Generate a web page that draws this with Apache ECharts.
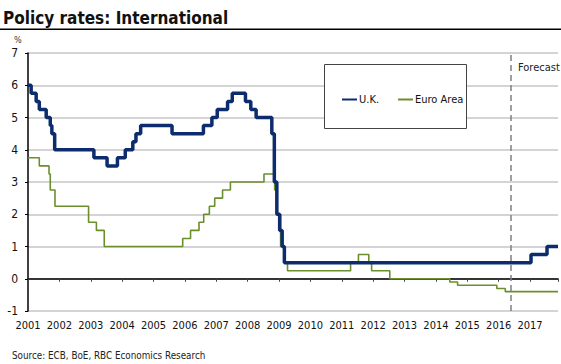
<!DOCTYPE html>
<html>
<head>
<meta charset="utf-8">
<script src="https://cdn.jsdelivr.net/npm/echarts@6/dist/echarts.min.js"></script>
<style>
html,body{margin:0;padding:0;background:#fff;}
#chart{width:561px;height:364px;}
</style>
</head>
<body>
<div id="chart"></div>
<script>
// ---- Data (decimal years where each rate takes effect) ----
const yearLabels = [2001,2002,2003,2004,2005,2006,2007,2008,2009,2010,2011,2012,2013,2014,2015,2016,2017];
const yTicks = [-1,0,1,2,3,4,5,6,7];

const ukDates = [2001.00,2001.10,2001.26,2001.36,2001.58,2001.71,2001.76,2001.85,2003.10,2003.52,2003.85,2004.10,2004.34,2004.44,2004.59,2005.59,2006.59,2006.86,2007.03,2007.36,2007.51,2007.93,2008.10,2008.27,2008.77,2008.85,2008.93,2009.02,2009.10,2009.17,2017.03,2017.54,2017.89];
const ukRates = [6.00,5.75,5.50,5.25,5.00,4.75,4.50,4.00,3.75,3.50,3.75,4.00,4.25,4.50,4.75,4.50,4.75,5.00,5.25,5.50,5.75,5.50,5.25,5.00,4.50,3.00,2.00,1.50,1.00,0.50,0.75,1.00,1.00];

const euroDates = [2001.00,2001.36,2001.67,2001.71,2001.86,2002.93,2003.18,2003.43,2005.93,2006.18,2006.45,2006.60,2006.78,2006.95,2007.20,2007.45,2008.52,2008.86,2008.94,2009.05,2009.19,2009.27,2011.28,2011.53,2011.86,2011.95,2012.53,2014.44,2014.69,2015.94,2016.21,2017.89];
const euroRates = [3.75,3.50,3.25,2.75,2.25,1.75,1.50,1.00,1.25,1.50,1.75,2.00,2.25,2.50,2.75,3.00,3.25,2.75,2.00,1.00,0.50,0.25,0.50,0.75,0.50,0.25,0.00,-0.10,-0.20,-0.30,-0.40,-0.40];

const forecastStart = 2016.40;
const xMin = 2001, xMax = 2017.89;

const FONT = "'Liberation Sans Narrow','DejaVu Sans Condensed',sans-serif";

const ukData = ukDates.map((d,i)=>[d, ukRates[i]]);
const euroData = euroDates.map((d,i)=>[d, euroRates[i]]);

const chart = echarts.init(document.getElementById('chart'), null, {renderer:'svg'});
chart.setOption({
  animation:false,
  backgroundColor:'#fff',
  textStyle:{fontFamily:FONT},
  grid:{left:28, right:0, top:53, bottom:53, containLabel:false},
  xAxis:[{
    type:'value', min:xMin, max:xMax, interval:1, position:'bottom',
    axisLine:{show:false, onZero:false},
    axisTick:{show:false},
    splitLine:{show:false},
    axisLabel:{margin:9, color:'#111', fontSize:11, fontFamily:FONT,
      formatter:v => yearLabels.includes(Math.round(v)) && Math.abs(v-Math.round(v))<1e-6 ? String(Math.round(v)) : ''}
  },{
    type:'value', min:xMin, max:xMax, interval:1, position:'bottom',
    axisLine:{show:true, onZero:true, lineStyle:{color:'#000', width:1.5}},
    axisTick:{show:true, length:3, lineStyle:{color:'#444', width:1}},
    axisLabel:{show:false},
    splitLine:{show:false}
  }],
  yAxis:{
    type:'value', min:-1, max:7, interval:1,
    axisLine:{show:true, onZero:false, lineStyle:{color:'#000', width:1.5}},
    axisTick:{show:true, length:3, lineStyle:{color:'#000'}},
    splitLine:{show:true, lineStyle:{color:'#c6c6c6', width:1.5}},
    axisLabel:{margin:10, color:'#111', fontSize:12, fontFamily:FONT,
      formatter:v => yTicks.includes(v) ? String(v) : ''}
  },
  legend:{
    left:336, top:89, itemWidth:15, itemHeight:8, itemGap:18, z:20,
    itemStyle:{opacity:0},
    textStyle:{fontSize:11, color:'#111', fontFamily:FONT, padding:[0,0,0,-3]},
    data:['U.K.','Euro Area']
  },
  graphic:[
    {type:'text', left:3, top:9, z:10, style:{text:'Policy rates: International', font:"bold 17px "+FONT, fill:'#111'}},
    {type:'rect', z:9, shape:{x:0,y:28.5,width:561,height:1.5}, style:{fill:'#000'}},
    {type:'text', left:14, top:35, z:10, style:{text:'%', font:"9px "+FONT, fill:'#333'}},
    {type:'rect', z:10, shape:{x:324.5,y:64.5,width:142,height:64}, style:{fill:'#fff', stroke:'#444', lineWidth:1}},
    {type:'text', left:518, top:62, z:10, style:{text:'Forecast', font:"11px "+FONT, fill:'#222'}},
    {type:'text', left:12, top:350, z:10, style:{text:'Source: ECB, BoE, RBC Economics Research', font:"9.8px "+FONT, fill:'#222'}}
  ],
  series:[{
    name:'U.K.', type:'line', step:'end', data:ukData, symbol:'none', z:5,
    lineStyle:{color:'#0c2c6e', width:3.5}, itemStyle:{color:'#0c2c6e'},
    markLine:{silent:true, symbol:'none', label:{show:false},
      lineStyle:{color:'#808080', type:[6,4], width:1.5},
      data:[{xAxis:forecastStart}]}
  },{
    name:'Euro Area', type:'line', step:'end', data:euroData, symbol:'none', z:4,
    lineStyle:{color:'#6b8f2c', width:1.6}, itemStyle:{color:'#6b8f2c'}
  }]
});
</script>
</body>
</html>
